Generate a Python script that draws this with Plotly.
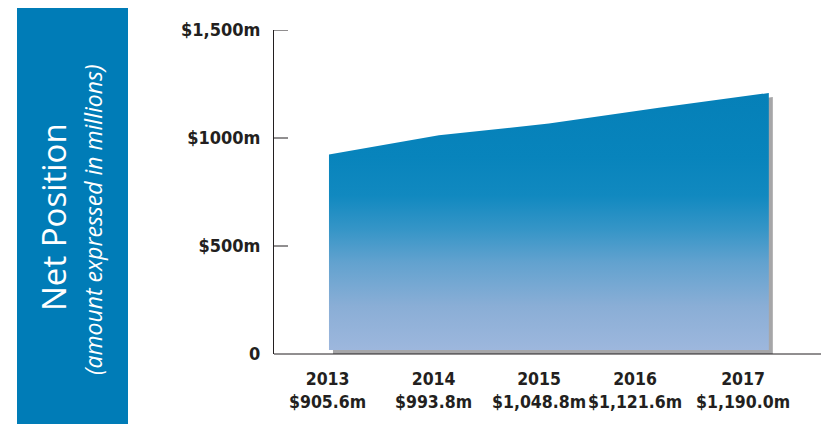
import plotly.graph_objects as go

years = [2013, 2014, 2015, 2016, 2017]
values = [905.6, 993.8, 1048.8, 1121.6, 1190.0]
value_labels = ["$905.6m", "$993.8m", "$1,048.8m", "$1,121.6m", "$1,190.0m"]
y_tickvals = [0, 500, 1000, 1500]
y_ticktext = ["0", "$500m", "$1000m", "$1,500m"]
title_main = "Net Position"
title_sub = "(amount expressed in millions)"

# page body has an 8px margin; figure coordinates = page coordinates - 8
OFF = 8
W, H = 829 - OFF, 424 - OFF
ML, MR, MT, MB = 274 - OFF, W - (826 - OFF), 30 - OFF, H - (354 - OFF)
plot_w = W - ML - MR
plot_h = H - MT - MB
x_range = [2012.5, 2017.52]
y_range = [0, 1500]
px_per_x = plot_w / (x_range[1] - x_range[0])
px_per_y = plot_h / (y_range[1] - y_range[0])
lift = 4  # pixels the coloured area sits above/left of its shadow
label_xshift = [-1, -5, -10, -24, -26]  # horizontal nudges of the category labels

cond_font = "DejaVu Sans Condensed, Liberation Sans Narrow, sans-serif"
text_color = "#231f20"

fig = go.Figure()

# shadow: base subplot, x range shifted so the shape appears a few px to the right
fig.add_trace(go.Scatter(
    x=years, y=values, xaxis="x", yaxis="y",
    mode="lines", line=dict(width=0, color="#a6a6a8"),
    fill="tozeroy", fillcolor="#a6a6a8", hoverinfo="skip", showlegend=False,
))

# main gradient area: overlay subplot, y range shifted so it sits a few px higher
fig.add_trace(go.Scatter(
    x=years, y=values, xaxis="x2", yaxis="y2",
    mode="lines", line=dict(width=0, color="#0a82ba"),
    fill="tozeroy",
    fillgradient=dict(
        type="vertical",
        colorscale=[
            [0.0, "#9db7dd"],
            [0.17, "#8aaed6"],
            [0.34, "#62a2cf"],
            [0.47, "#3595c7"],
            [0.6, "#1189c0"],
            [0.75, "#0884bc"],
            [1.0, "#0580b8"],
        ],
        start=0, stop=max(values),
    ),
    hoverinfo="skip", showlegend=False,
))

fig.update_layout(
    width=W, height=H,
    margin=dict(l=ML, r=MR, t=MT, b=MB, pad=0),
    paper_bgcolor="white", plot_bgcolor="white",
    showlegend=False,
    xaxis=dict(
        range=[x_range[0] - lift / px_per_x, x_range[1] - lift / px_per_x],
        visible=False, fixedrange=True,
    ),
    xaxis2=dict(
        range=x_range, overlaying="x", side="bottom", anchor="y",
        showgrid=False, zeroline=False, showline=False, showticklabels=False,
        ticks="", fixedrange=True,
    ),
    yaxis=dict(
        range=y_range, tickvals=y_tickvals, ticktext=[f"<b>{t}</b>" for t in y_ticktext],
        showgrid=False, zeroline=False, showline=True, linecolor=text_color, linewidth=1,
        ticks="", tickfont=dict(family=cond_font, size=18, color=text_color),
        ticklabelstandoff=9, fixedrange=True,
    ),
    yaxis2=dict(
        range=[y_range[0] - lift / px_per_y, y_range[1] - lift / px_per_y],
        overlaying="y", visible=False, fixedrange=True,
    ),
    shapes=[
        # left blue panel
        dict(type="rect", xref="paper", yref="paper",
             x0=(17 - OFF - ML) / plot_w, x1=(128 - OFF - ML) / plot_w,
             y0=-MB / plot_h - 0.01, y1=(H - MB) / plot_h + 0.01,
             fillcolor="#007cb7", line=dict(width=0), layer="below"),
        # x axis baseline
        dict(type="line", xref="paper", yref="paper", x0=0, x1=1, y0=0, y1=0,
             line=dict(color=text_color, width=1)),
        # end tick on x axis
        dict(type="line", xref="paper", yref="paper", x0=1, x1=1,
             y0=0, y1=5 / plot_h, line=dict(color=text_color, width=1)),
    ] + [
        dict(type="line", xref="paper", yref="y", x0=0, x1=14 / plot_w, y0=v, y1=v,
             line=dict(color=text_color, width=1))
        for v in y_tickvals[1:]
    ],
    annotations=[
        dict(text=title_main, xref="paper", yref="paper",
             x=(53 - OFF - ML) / plot_w, y=(354 - 217) / plot_h,
             showarrow=False, textangle=-90, xanchor="center", yanchor="middle",
             font=dict(family="Open Sans, Noto Sans, sans-serif", size=33, color="white")),
        dict(text=f"<i>{title_sub}</i>", xref="paper", yref="paper",
             x=(93 - OFF - ML) / plot_w, y=(354 - 220) / plot_h,
             showarrow=False, textangle=-90, xanchor="center", yanchor="middle",
             font=dict(family="Open Sans, Noto Sans, sans-serif", size=23, color="white")),
    ] + [
        dict(text=f"<b>{yr}</b><br><b>{lab}</b>", x=yr, xref="x2", y=0, yref="paper",
             xshift=dx, yshift=-13, yanchor="top", xanchor="center", showarrow=False,
             align="center",
             font=dict(family=cond_font, size=17.5, color=text_color))
        for yr, lab, dx in zip(years, value_labels, label_xshift)
    ],
)

fig.write_html("out.html")
